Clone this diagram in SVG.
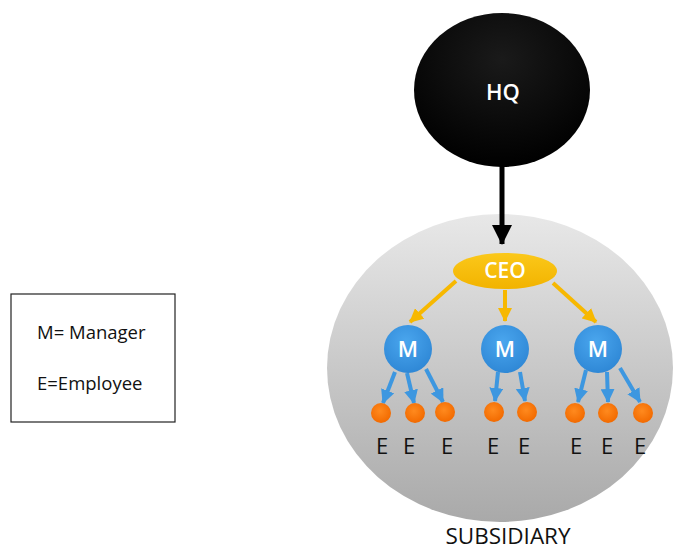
<svg xmlns="http://www.w3.org/2000/svg" width="674" height="551" viewBox="0 0 674 551">
  <style>
    .lbl { font-family: "Open Sans", "Liberation Sans", sans-serif; }
    .wt { fill: #ffffff; text-anchor: middle; font-weight: 600; }
    .e { font-family: "Open Sans", "Liberation Sans", sans-serif; font-size: 22px; fill: #111; text-anchor: middle; }
    .blue { stroke: #3d97e0; stroke-width: 4; fill: none; marker-end: url(#bh); }
    .gold { stroke: #f7b800; stroke-width: 4; fill: none; marker-end: url(#gh); }
    .emp { fill: url(#og); }
    .mgr { fill: url(#bg); }
  </style>
  <defs>
    <linearGradient id="sub" x1="0" y1="0" x2="0" y2="1">
      <stop offset="0" stop-color="#e8e8e8"/>
      <stop offset="1" stop-color="#a9a9a9"/>
    </linearGradient>
    <radialGradient id="hq" cx="0.5" cy="0.3" r="0.7">
      <stop offset="0" stop-color="#1a1a1a"/>
      <stop offset="1" stop-color="#000000"/>
    </radialGradient>
    <linearGradient id="ceo" x1="0" y1="0" x2="0" y2="1">
      <stop offset="0" stop-color="#fbc81a"/>
      <stop offset="1" stop-color="#f2b300"/>
    </linearGradient>
    <radialGradient id="bg" cx="0.45" cy="0.35" r="0.65">
      <stop offset="0" stop-color="#4aa6ee"/>
      <stop offset="1" stop-color="#2f88d6"/>
    </radialGradient>
    <radialGradient id="og" cx="0.45" cy="0.4" r="0.6">
      <stop offset="0" stop-color="#ff8a1e"/>
      <stop offset="1" stop-color="#f26a00"/>
    </radialGradient>
    <marker id="bh" markerUnits="userSpaceOnUse" markerWidth="14" markerHeight="14" viewBox="0 0 14 14" refX="13" refY="7" orient="auto">
      <path d="M0,0 L14,7 L0,14 Z" fill="#3d97e0"/>
    </marker>
    <marker id="gh" markerUnits="userSpaceOnUse" markerWidth="14" markerHeight="14" viewBox="0 0 14 14" refX="13" refY="7" orient="auto">
      <path d="M0,0 L14,7 L0,14 Z" fill="#f7b800"/>
    </marker>
    <marker id="kh" markerUnits="userSpaceOnUse" markerWidth="20" markerHeight="20" viewBox="0 0 20 20" refX="19" refY="10" orient="auto">
      <path d="M0,0 L20,10 L0,20 Z" fill="#000"/>
    </marker>
  </defs>

  <rect width="674" height="551" fill="#ffffff"/>

  <g id="legend">
    <rect x="11" y="294" width="164" height="128" fill="#ffffff" stroke="#222" stroke-width="1.2"/>
    <text class="lbl" x="37" y="339" font-size="18.5" fill="#111">M= Manager</text>
    <text class="lbl" x="37" y="390" font-size="18.5" fill="#111">E=Employee</text>
  </g>

  <g id="subsidiary">
    <ellipse cx="500" cy="368" rx="173" ry="154" fill="url(#sub)"/>
    <text class="lbl" x="508" y="544" font-size="22.5" fill="#111" text-anchor="middle">SUBSIDIARY</text>
  </g>

  <g id="hq-node">
    <ellipse cx="502" cy="90" rx="88" ry="77" fill="url(#hq)"/>
    <text class="lbl wt" x="503" y="100" font-size="22">HQ</text>
  </g>

  <g id="connectors">
    <line x1="502" y1="166" x2="502" y2="244" stroke="#000" stroke-width="5" marker-end="url(#kh)"/>
    <line class="gold" x1="456" y1="281" x2="410" y2="322"/>
    <line class="gold" x1="505" y1="290" x2="505" y2="321"/>
    <line class="gold" x1="553" y1="283" x2="596" y2="322"/>
    <line class="blue" x1="395" y1="372" x2="383" y2="403"/>
    <line class="blue" x1="407" y1="373" x2="414" y2="403"/>
    <line class="blue" x1="426" y1="369" x2="443" y2="402"/>
    <line class="blue" x1="498" y1="372" x2="495" y2="401"/>
    <line class="blue" x1="520" y1="372" x2="525" y2="401"/>
    <line class="blue" x1="586" y1="370" x2="578" y2="402"/>
    <line class="blue" x1="607" y1="372" x2="608" y2="402"/>
    <line class="blue" x1="620" y1="368" x2="640" y2="402"/>
  </g>

  <g id="ceo-node">
    <ellipse cx="505" cy="271" rx="52" ry="18" fill="url(#ceo)"/>
    <text class="lbl wt" x="505" y="278" font-size="21">CEO</text>
  </g>

  <g id="m1"><circle class="mgr" cx="408" cy="349" r="24"/><text class="lbl wt" x="408" y="357" font-size="22">M</text></g>
  <g id="m2"><circle class="mgr" cx="505" cy="349" r="24"/><text class="lbl wt" x="505" y="357" font-size="22">M</text></g>
  <g id="m3"><circle class="mgr" cx="598" cy="349" r="24"/><text class="lbl wt" x="598" y="357" font-size="22">M</text></g>

  <g id="e1"><circle class="emp" cx="381" cy="413" r="10"/><text class="e" x="382" y="454">E</text></g>
  <g id="e2"><circle class="emp" cx="415" cy="413" r="10"/><text class="e" x="409" y="454">E</text></g>
  <g id="e3"><circle class="emp" cx="445" cy="412" r="10"/><text class="e" x="447" y="454">E</text></g>
  <g id="e4"><circle class="emp" cx="494" cy="412" r="10"/><text class="e" x="493" y="454">E</text></g>
  <g id="e5"><circle class="emp" cx="527" cy="412" r="10"/><text class="e" x="524" y="454">E</text></g>
  <g id="e6"><circle class="emp" cx="575" cy="413" r="10"/><text class="e" x="576" y="454">E</text></g>
  <g id="e7"><circle class="emp" cx="608" cy="413" r="10"/><text class="e" x="607" y="454">E</text></g>
  <g id="e8"><circle class="emp" cx="643" cy="413" r="10"/><text class="e" x="640" y="454">E</text></g>
</svg>
